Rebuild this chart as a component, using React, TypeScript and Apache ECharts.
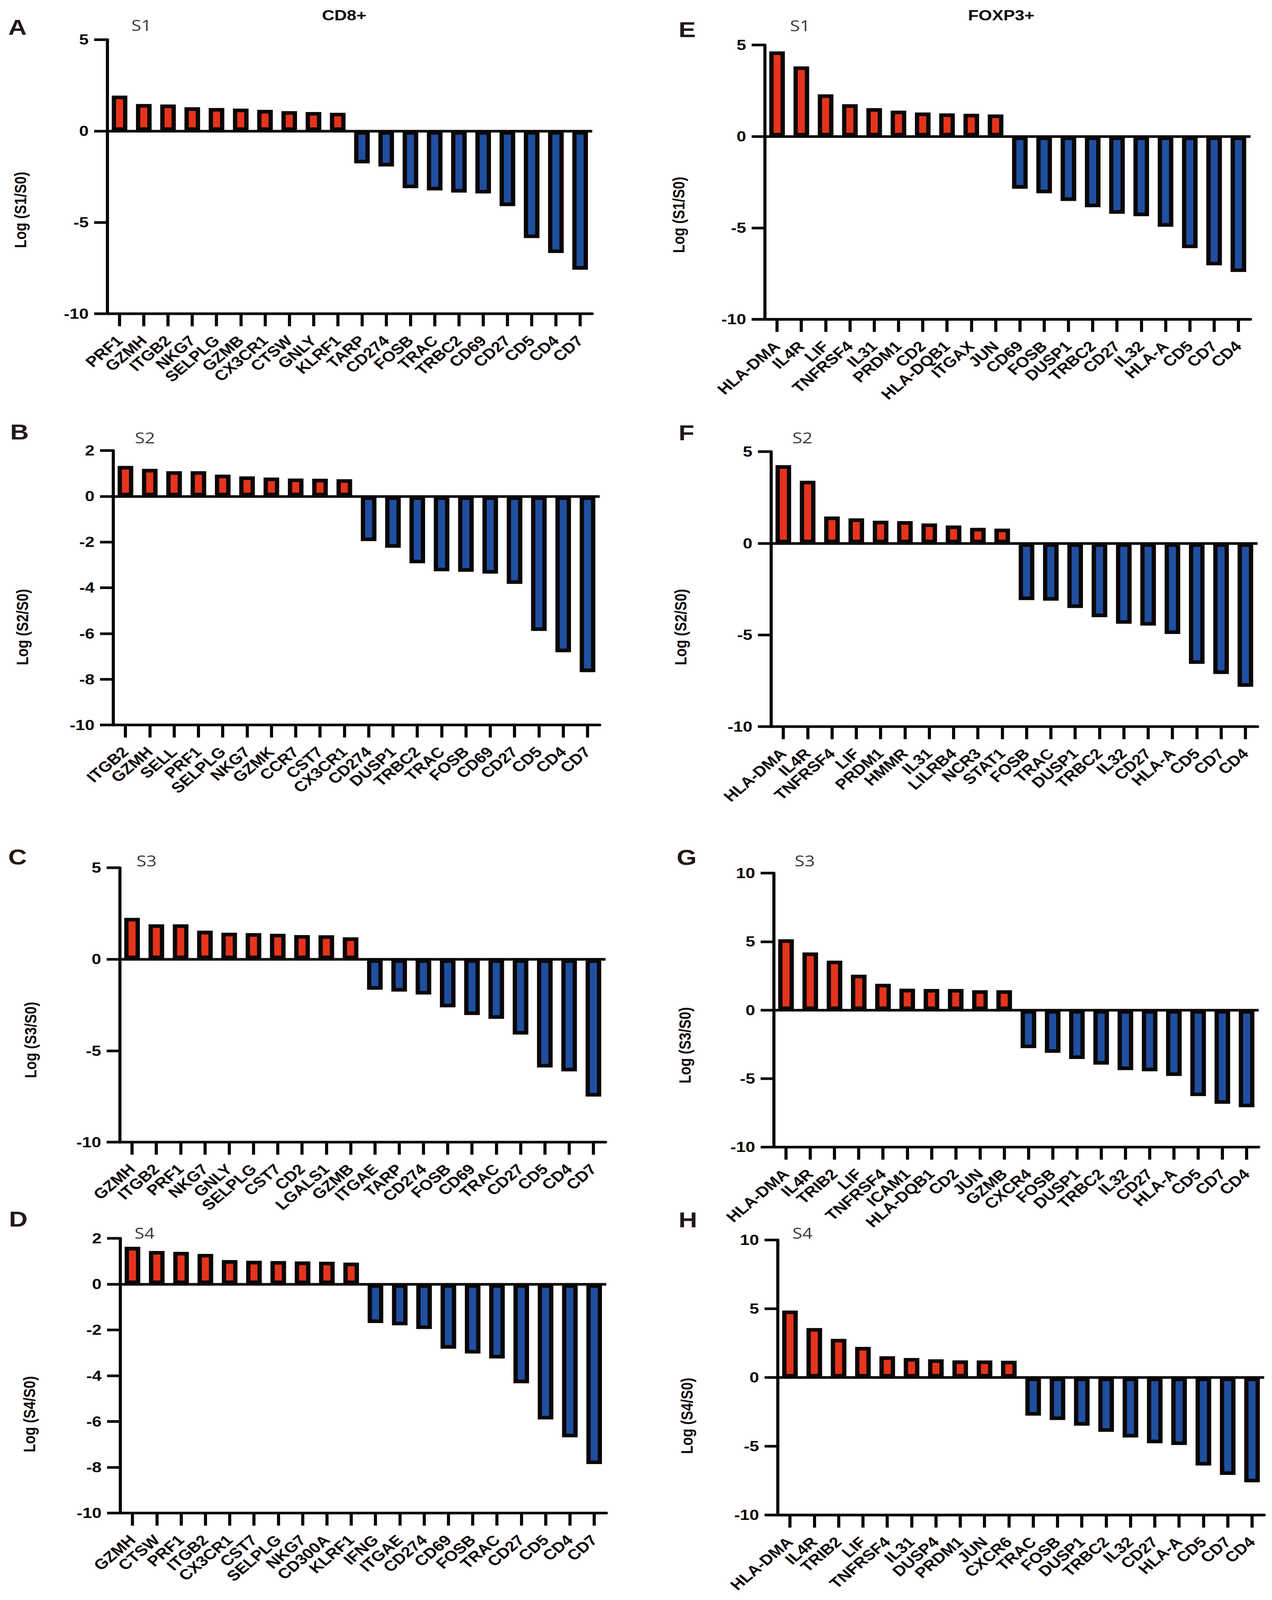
import React, { useEffect, useRef } from 'react';
import * as echarts from 'echarts';

// ---------- data ----------
const genesA = ['PRF1', 'GZMH', 'ITGB2', 'NKG7', 'SELPLG', 'GZMB', 'CX3CR1', 'CTSW', 'GNLY', 'KLRF1', 'TARP', 'CD274', 'FOSB', 'TRAC', 'TRBC2', 'CD69', 'CD27', 'CD5', 'CD4', 'CD7'];
const valuesA = [1.94, 1.48, 1.45, 1.3, 1.26, 1.23, 1.16, 1.09, 1.04, 1.0, -1.77, -1.94, -3.13, -3.25, -3.37, -3.42, -4.11, -5.86, -6.68, -7.59];

const genesB = ['ITGB2', 'GZMH', 'SELL', 'PRF1', 'SELPLG', 'NKG7', 'GZMK', 'CCR7', 'CST7', 'CX3CR1', 'CD274', 'DUSP1', 'TRBC2', 'TRAC', 'FOSB', 'CD69', 'CD27', 'CD5', 'CD4', 'CD7'];
const valuesB = [1.33, 1.2, 1.1, 1.1, 0.95, 0.87, 0.82, 0.78, 0.77, 0.75, -1.96, -2.25, -2.93, -3.28, -3.3, -3.38, -3.83, -5.89, -6.82, -7.69];

const genesC = ['GZMH', 'ITGB2', 'PRF1', 'NKG7', 'GNLY', 'SELPLG', 'CST7', 'CD2', 'LGALS1', 'GZMB', 'ITGAE', 'TARP', 'CD274', 'FOSB', 'CD69', 'TRAC', 'CD27', 'CD5', 'CD4', 'CD7'];
const valuesC = [2.26, 1.91, 1.91, 1.56, 1.45, 1.43, 1.39, 1.32, 1.31, 1.2, -1.67, -1.77, -1.93, -2.63, -3.05, -3.26, -4.12, -5.92, -6.13, -7.51];

const genesD = ['GZMH', 'CTSW', 'PRF1', 'ITGB2', 'CX3CR1', 'CST7', 'SELPLG', 'NKG7', 'CD300A', 'KLRF1', 'IFNG', 'ITGAE', 'CD274', 'CD69', 'FOSB', 'TRAC', 'CD27', 'CD5', 'CD4', 'CD7'];
const valuesD = [1.63, 1.45, 1.41, 1.32, 1.05, 1.02, 1.01, 0.99, 0.98, 0.94, -1.7, -1.8, -1.96, -2.82, -3.03, -3.25, -4.33, -5.91, -6.69, -7.86];

const genesE = ['HLA-DMA', 'IL4R', 'LIF', 'TNFRSF4', 'IL31', 'PRDM1', 'CD2', 'HLA-DQB1', 'ITGAX', 'JUN', 'CD69', 'FOSB', 'DUSP1', 'TRBC2', 'CD27', 'IL32', 'HLA-A', 'CD5', 'CD7', 'CD4'];
const valuesE = [4.65, 3.83, 2.3, 1.76, 1.55, 1.41, 1.31, 1.26, 1.24, 1.2, -2.86, -3.11, -3.53, -3.87, -4.23, -4.36, -4.94, -6.11, -7.05, -7.41];

const genesF = ['HLA-DMA', 'IL4R', 'TNFRSF4', 'LIF', 'PRDM1', 'HMMR', 'IL31', 'LILRB4', 'NCR3', 'STAT1', 'FOSB', 'TRAC', 'DUSP1', 'TRBC2', 'IL32', 'CD27', 'HLA-A', 'CD5', 'CD7', 'CD4'];
const valuesF = [4.26, 3.41, 1.46, 1.36, 1.23, 1.21, 1.08, 0.97, 0.84, 0.8, -3.1, -3.13, -3.53, -4.03, -4.39, -4.49, -4.95, -6.58, -7.13, -7.83];

const genesG = ['HLA-DMA', 'IL4R', 'TRIB2', 'LIF', 'TNFRSF4', 'ICAM1', 'HLA-DQB1', 'CD2', 'JUN', 'GZMB', 'CXCR4', 'FOSB', 'DUSP1', 'TRBC2', 'IL32', 'CD27', 'HLA-A', 'CD5', 'CD7', 'CD4'];
const valuesG = [5.17, 4.21, 3.61, 2.58, 1.92, 1.56, 1.54, 1.54, 1.45, 1.45, -2.78, -3.12, -3.57, -3.98, -4.38, -4.47, -4.81, -6.28, -6.84, -7.09];

const genesH = ['HLA-DMA', 'IL4R', 'TRIB2', 'LIF', 'TNFRSF4', 'IL31', 'DUSP4', 'PRDM1', 'JUN', 'CXCR6', 'TRAC', 'FOSB', 'DUSP1', 'TRBC2', 'IL32', 'CD27', 'HLA-A', 'CD5', 'CD7', 'CD4'];
const valuesH = [4.87, 3.6, 2.81, 2.23, 1.55, 1.42, 1.33, 1.25, 1.24, 1.22, -2.77, -3.09, -3.5, -3.95, -4.36, -4.78, -4.91, -6.4, -7.08, -7.62];

// y-axis scales: [min, max, interval]
const scaleA = [-10, 5, 5];
const scaleB = [-10, 2, 2];
const scaleC = [-10, 5, 5];
const scaleD = [-10, 2, 2];
const scaleE = [-10, 5, 5];
const scaleF = [-10, 5, 5];
const scaleG = [-10, 10, 5];
const scaleH = [-10, 10, 5];

const letters = ['A', 'B', 'C', 'D', 'E', 'F', 'G', 'H'];
const stages = ['S1', 'S2', 'S3', 'S4', 'S1', 'S2', 'S3', 'S4'];
const columnTitles = ['CD8+', 'FOXP3+'];

// ---------- styles / layout ----------
const PAGE_W = 3256;
const PAGE_H = 4840;
const RED = '#E5341B';
const BLUE = '#1F4FA0';
const INK = '#0b0606';
const FONT = '"Liberation Sans", Arial, Helvetica, sans-serif';

const panels = [
  { genes: genesA, values: valuesA, scale: scaleA, left: 275, top: 120, width: 1241, height: 829, letter: [21, 82], stage: [362, 75], yname: [52, 635] },
  { genes: genesB, values: valuesB, scale: scaleB, left: 290, top: 1363, width: 1245, height: 830, letter: [26, 1307], stage: [371, 1323], yname: [57, 1897] },
  { genes: genesC, values: valuesC, scale: scaleC, left: 307, top: 2625, width: 1243, height: 830, letter: [21, 2592], stage: [375, 2602], yname: [78, 3146] },
  { genes: genesD, values: valuesD, scale: scaleD, left: 308, top: 3746, width: 1244, height: 831, letter: [23, 3688], stage: [370, 3729], yname: [75, 4278] },
  { genes: genesE, values: valuesE, scale: scaleE, left: 1958, top: 136, width: 1243, height: 830, letter: [1737, 90], stage: [2048, 76], yname: [1737, 650] },
  { genes: genesF, values: valuesF, scale: scaleF, left: 1974, top: 1366, width: 1245, height: 832, letter: [1737, 1309], stage: [2054, 1323], yname: [1742, 1897] },
  { genes: genesG, values: valuesG, scale: scaleG, left: 1981, top: 2641, width: 1241, height: 829, letter: [1732, 2594], stage: [2060, 2602], yname: [1753, 3162] },
  { genes: genesH, values: valuesH, scale: scaleH, left: 1991, top: 3751, width: 1245, height: 832, letter: [1737, 3690], stage: [2054, 3729], yname: [1758, 4283] },
];
const titlePos = [[881, 46], [2563, 46]];

function txt(text: string, x: number, y: number, opts: any) {
  const align = opts.align || 'center';
  const valign = opts.valign || 'middle';
  return {
    type: 'text',
    x,
    y,
    rotation: opts.rotation || 0,
    silent: true,
    style: {
      text,
      fill: opts.fill || INK,
      fontSize: opts.fontSize,
      fontWeight: opts.fontWeight || 'bold',
      fontFamily: opts.fontFamily || FONT,
      align,
      verticalAlign: valign,
      textAlign: align,
      textVerticalAlign: valign,
    },
  };
}

export default function App() {
  const ref = useRef<HTMLDivElement>(null);

  useEffect(() => {
    document.body.style.margin = '0';
    document.body.style.overflow = 'hidden';
    if (!ref.current) return;

    // fit the full figure into the actual viewport
    const vw = window.innerWidth || PAGE_W;
    const vh = window.innerHeight || PAGE_H;
    const sx = vw / PAGE_W;
    const sy = vh / PAGE_H;
    ref.current.style.transform = `scale(${sx}, ${sy})`;

    const chart = echarts.init(ref.current, undefined, { renderer: 'svg' });

    const grid = panels.map((p) => ({ left: p.left, top: p.top, width: p.width, height: p.height, containLabel: false }));

    const xAxis = panels.map((p, i) => ({
      type: 'category',
      gridIndex: i,
      data: p.genes,
      boundaryGap: true,
      axisLine: { show: true, onZero: false, lineStyle: { color: INK, width: 8 } },
      axisTick: { show: true, alignWithLabel: true, length: 38, lineStyle: { color: INK, width: 8 } },
      axisLabel: {
        interval: 0,
        rotate: 45,
        margin: 74,
        color: INK,
        fontSize: 44,
        fontWeight: 'bold',
        fontFamily: FONT,
      },
      splitLine: { show: false },
    }));

    const yAxis = panels.map((p, i) => ({
      type: 'value',
      gridIndex: i,
      min: p.scale[0],
      max: p.scale[1],
      interval: p.scale[2],
      axisLine: { show: true, lineStyle: { color: INK, width: 8 } },
      axisTick: { show: true, length: 34, lineStyle: { color: INK, width: 8 } },
      axisLabel: { margin: 48, color: INK, fontSize: 44, fontWeight: 'bold', fontFamily: FONT },
      splitLine: { show: false },
    }));

    const series = panels.map((p, i) => ({
      type: 'bar',
      xAxisIndex: i,
      yAxisIndex: i,
      barWidth: 40,
      data: p.values.map((v) => ({ value: v, itemStyle: { color: v >= 0 ? RED : BLUE } })),
      itemStyle: { borderColor: INK, borderWidth: 11 },
      markLine: {
        silent: true,
        symbol: ['none', 'none'],
        label: { show: false },
        lineStyle: { color: INK, width: 8, type: 'solid' },
        data: [{ yAxis: 0 }],
      },
    }));

    const graphic: any[] = [];
    panels.forEach((p, i) => {
      graphic.push(txt(letters[i], p.letter[0], p.letter[1], { align: 'left', fontSize: 66, fill: '#231815' }));
      graphic.push(
        txt(stages[i], p.stage[0], p.stage[1], {
          fontSize: 46,
          fontWeight: 'normal',
          fill: '#3a3a3a',
          fontFamily: '"Liberation Sans Narrow", "Open Sans", sans-serif',
        })
      );
      graphic.push(
        txt('Log (' + stages[i] + '/S0)', p.yname[0], p.yname[1], { fontSize: 42, rotation: Math.PI / 2 })
      );
    });
    columnTitles.forEach((t, i) => {
      graphic.push(txt(t, titlePos[i][0], titlePos[i][1], { fontSize: 44 }));
    });

    chart.setOption({
      animation: false,
      backgroundColor: '#ffffff',
      grid,
      xAxis,
      yAxis,
      series,
      graphic,
    });

    return () => chart.dispose();
  }, []);

  return (
    <div style={{ width: '100vw', height: '100vh', overflow: 'hidden', position: 'relative', background: '#ffffff' }}>
      <div
        ref={ref}
        style={{ width: PAGE_W, height: PAGE_H, position: 'absolute', left: 0, top: 0, transformOrigin: '0 0' }}
      />
    </div>
  );
}
